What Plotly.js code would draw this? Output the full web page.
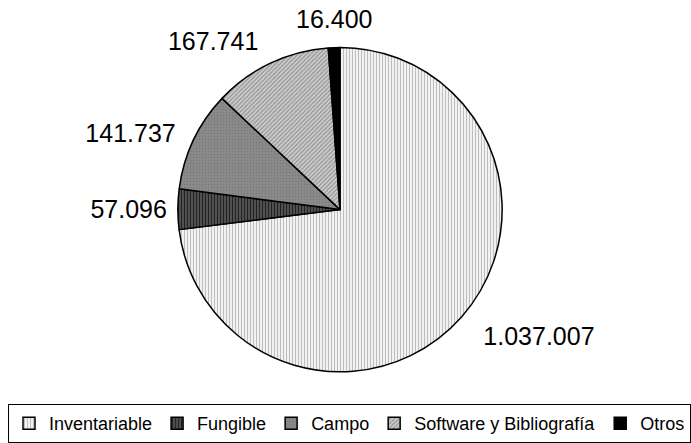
<!DOCTYPE html>
<html>
<head>
<meta charset="utf-8">
<script src="https://cdn.plot.ly/plotly-3.0.1.min.js"></script>
<style>
  html, body { margin: 0; padding: 0; background: #fff; }
  #chart { width: 691px; height: 443px; }
</style>
</head>
<body>
<div id="chart"></div>
<script>
// Data
var categories = ["Inventariable", "Fungible", "Campo", "Software y Bibliografía", "Otros"];
var values = [1037007, 57096, 141737, 167741, 16400];
var valueLabels = ["1.037.007", "57.096", "141.737", "167.741", "16.400"];

// Styles
var fills = ["#f2f2f2", "#555555", "#8a8a8a", "#cccccc", "#000000"];
var patternShapes = ["|", "|", ".", "/", ""];
var patternFg = ["#b8b8b8", "#222222", "#777777", "#8c8c8c", "#000000"];
var patternSize = [3, 3, 3, 3, 3];
var patternSolidity = [0.3, 0.4, 0.2, 0.35, 0.3];
// extra distance (px) of each outside value label beyond the pie rim
var labelGap = [20, 4, 12, 12, 14];

var W = 691, H = 443;
var cx = 340, cy = 212, R = 164;
var labelFont = { family: "Liberation Sans, Arial, sans-serif", size: 25, color: "#000000" };

function dom(extra) {
  return {
    x: [(cx - R - extra) / W, (cx + R + extra) / W],
    y: [(H - cy - R - extra) / H, (H - cy + R + extra) / H]
  };
}

var pie = {
  type: "pie",
  labels: categories,
  values: values,
  sort: false,
  direction: "clockwise",
  rotation: 0,
  domain: dom(0),
  textinfo: "none",
  hoverinfo: "label+value",
  marker: {
    colors: fills,
    line: { color: "#000000", width: 1.5 },
    pattern: {
      shape: patternShapes,
      fgcolor: patternFg,
      bgcolor: fills,
      size: patternSize,
      solidity: patternSolidity
    }
  },
  showlegend: true
};

var traces = [pie];
var clear = categories.map(function () { return "rgba(0,0,0,0)"; });

// One transparent label ring per label, so each value sits just outside its slice
// (the thin "Otros" slice at the top is labelled with an annotation instead, centred above it)
var total = values.reduce(function (a, b) { return a + b; }, 0);
var annotations = [];
var cum = 0;
categories.forEach(function (cat, i) {
  var mid = (cum + values[i] / 2) / total * 2 * Math.PI; // clockwise from 12 o'clock
  cum += values[i];
  var s = Math.sin(mid), c = Math.cos(mid);
  if (Math.abs(s) < 0.15) {
    var r = R + labelGap[i];
    annotations.push({
      xref: "paper", yref: "paper",
      x: (cx + r * s) / W,
      y: (H - cy + r * c) / H,
      xanchor: "center",
      yanchor: c > 0 ? "bottom" : "top",
      text: valueLabels[i],
      showarrow: false,
      font: labelFont,
      borderpad: 0
    });
    return;
  }
  var txt = categories.map(function (_, j) { return j === i ? valueLabels[i] : ""; });
  traces.push({
    type: "pie",
    labels: categories,
    values: values,
    sort: false,
    direction: "clockwise",
    rotation: 0,
    domain: dom(labelGap[i]),
    text: txt,
    textinfo: "text",
    textposition: "outside",
    outsidetextfont: labelFont,
    marker: { colors: clear, line: { width: 0 } },
    hoverinfo: "skip",
    showlegend: false
  });
});

var layout = {
  width: W,
  height: H,
  margin: { l: 0, r: 0, t: 0, b: 0 },
  paper_bgcolor: "#ffffff",
  font: { family: "Liberation Sans, Arial, sans-serif", color: "#000000" },
  showlegend: true,
  annotations: annotations,
  legend: {
    orientation: "h",
    x: 10 / W,
    xanchor: "left",
    y: (H - 409) / H,
    yanchor: "top",
    bordercolor: "#000000",
    borderwidth: 1,
    bgcolor: "#ffffff",
    font: { size: 18, color: "#000000" },
    traceorder: "normal"
  }
};

Plotly.newPlot("chart", traces, layout, { displayModeBar: false, staticPlot: true });
</script>
</body>
</html>
